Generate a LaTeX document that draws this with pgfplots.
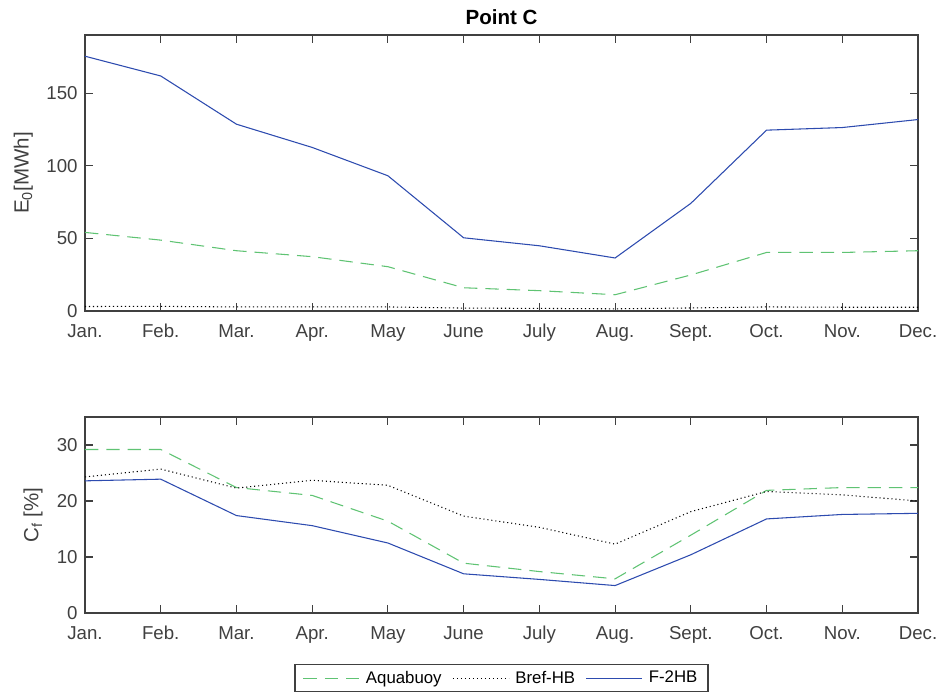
\documentclass[border=0pt]{standalone}
\usepackage{pgfplots}
\pgfplotsset{compat=1.18}
\usepackage{fontspec}
\setmainfont{Liberation Sans}
\definecolor{cblue}{RGB}{45,75,175}
\definecolor{cgreen}{RGB}{95,195,115}
\definecolor{axgray}{RGB}{64,64,64}
\pgfplotsset{
  monthaxis/.style={
    scale only axis, width=624.75pt,
    xmin=0, xmax=11, ymin=0,
    xtick={0,...,11},
    xticklabels={Jan.,Feb.,Mar.,Apr.,May,June,July,Aug.,Sept.,Oct.,Nov.,Dec.},
    tick align=inside, major tick length=6pt,
    axis line style={axgray, line width=0.9pt},
    every tick/.style={axgray, line width=0.8pt},
    tick label style={font=\fontsize{14}{16}\selectfont, text=axgray},
    xticklabel style={yshift=-6pt, text height=10pt, text depth=3pt},
    yticklabel style={xshift=-2pt},
    label style={font=\fontsize{15.4}{17}\selectfont, text=axgray},
    /pgf/number format/assume math mode=true,
    clip=true,
  },
  aqua/.style={cgreen, line width=0.8pt, dash pattern=on 10pt off 6pt},
  bref/.style={black, line width=0.8pt, dash pattern=on 0.8pt off 2.2pt},
  f2hb/.style={cblue, line width=0.8pt},
}
\begin{document}
\begin{tikzpicture}
\begin{axis}[monthaxis, name=top, at={(0,0)}, anchor=south west,
  height=207pt, ymax=190, ytick={0,50,100,150},
  ylabel={E\textsubscript{0}[MWh]},
  ylabel style={at={(axis description cs:-0.074,0.5)}, anchor=center},
  title={\textbf{Point C}},
  title style={font=\fontsize{15.4}{17}\selectfont, yshift=-2pt}]
\addplot[aqua] coordinates {(0,54.1) (1,48.8) (2,41.5) (3,37.4) (4,30.5) (5,16.0) (6,14.0) (7,11.2) (8,24.8) (9,40.3) (10,40.3) (11,41.5)};
\addplot[bref] coordinates {(0,3.1) (1,3.2) (2,2.8) (3,2.9) (4,2.8) (5,2.0) (6,1.8) (7,1.5) (8,2.1) (9,2.8) (10,2.6) (11,2.6)};
\addplot[f2hb] coordinates {(0,175.4) (1,161.8) (2,128.6) (3,112.6) (4,93.1) (5,50.4) (6,44.9) (7,36.5) (8,74.1) (9,124.5) (10,126.3) (11,131.8)};
\end{axis}
\begin{axis}[monthaxis, at={(0,-226.5pt)}, anchor=south west,
  height=147pt, ymax=35, ytick={0,10,20,30},
  ylabel={C\textsubscript{f} [\%]},
  ylabel style={at={(axis description cs:-0.0624,0.5)}, anchor=center},
  legend columns=3,
  legend style={at={(0.5,-0.332)}, anchor=center, draw=axgray, line width=0.9pt,
    font=\fontsize{12.6}{14}\selectfont, text=black,
    inner xsep=6pt, inner ysep=3pt,
    /tikz/every even column/.append style={column sep=6pt}},
  legend image code/.code={\draw[#1] (0pt,0pt) -- (42pt,0pt); \path (44.5pt,0pt);}]
\addplot[aqua] coordinates {(0,29.2) (1,29.2) (2,22.4) (3,21.0) (4,16.4) (5,8.9) (6,7.4) (7,6.1) (8,13.9) (9,21.9) (10,22.4) (11,22.4)};
\addlegendentry{Aquabuoy}
\addplot[bref] coordinates {(0,24.3) (1,25.7) (2,22.3) (3,23.7) (4,22.8) (5,17.3) (6,15.3) (7,12.3) (8,18.1) (9,21.7) (10,21.1) (11,20.0)};
\addlegendentry{Bref-HB}
\addplot[f2hb] coordinates {(0,23.6) (1,23.9) (2,17.4) (3,15.6) (4,12.5) (5,7.0) (6,6.0) (7,4.9) (8,10.4) (9,16.8) (10,17.6) (11,17.8)};
\addlegendentry{F-2HB}
\end{axis}
\pgfresetboundingbox
\path[use as bounding box] (-63.75pt,-289.5pt) rectangle (640.5pt,233.25pt);
\end{tikzpicture}
\end{document}
